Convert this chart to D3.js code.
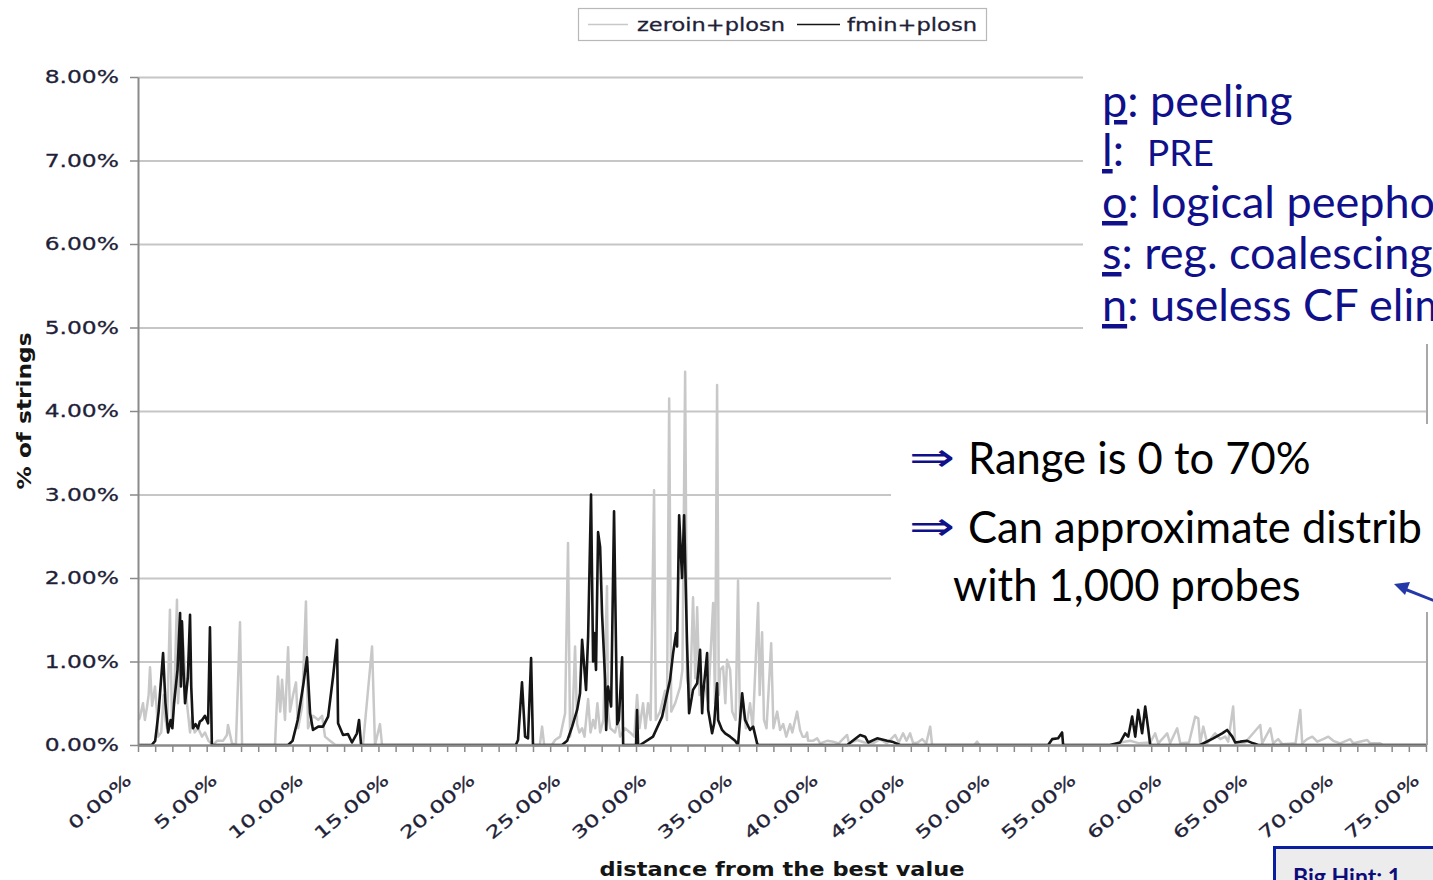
<!DOCTYPE html>
<html>
<head>
<meta charset="utf-8">
<script src="https://cdn.jsdelivr.net/npm/d3@7"></script>
<style>
  body { margin: 0; background: #fff; overflow: hidden; }
  svg { display: block; }
</style>
</head>
<body>
<div id="chart"></div>
<script>
// data: [distance %, % of strings]
const seriesNames = ["zeroin+plosn", "fmin+plosn"];
const yTicks = [0, 1, 2, 3, 4, 5, 6, 7, 8];
const xLabelTicks = [0, 5, 10, 15, 20, 25, 30, 35, 40, 45, 50, 55, 60, 65, 70, 75];

const zeroinPoints = [
  [0.05, 0.3], [0.12, 0.34], [0.29, 0.5], [0.4, 0.3], [0.52, 0.45], [0.62, 0.6], [0.7, 0.93], [0.82, 0.47],
  [0.99, 0.7], [1.1, 0.4], [1.16, 0.1], [1.35, 0.15], [1.5, 0.6], [1.6, 0.3], [1.69, 0.2], [1.86, 1.62],
  [1.98, 0.26], [2.1, 0.5], [2.27, 1.74], [2.33, 0.5], [2.45, 0.9], [2.56, 1.45], [2.74, 0.85], [2.85, 0.5],
  [3.03, 0.15], [3.15, 0.34], [3.3, 0.15], [3.5, 0.2], [3.73, 0.1], [3.9, 0.15], [4.1, 0.05], [4.37, 0],
  [4.6, 0.05], [4.95, 0.05], [5.18, 0.12], [5.24, 0.24], [5.47, 0.02], [5.7, 0], [5.94, 1.47], [6.06, 0],
  [7.98, 0], [8.15, 0.82], [8.28, 0.4], [8.39, 0.78], [8.56, 0.3], [8.74, 1.17], [8.85, 0.4], [9.03, 0.6],
  [9.2, 0.75], [9.32, 0.2], [9.55, 0.45], [9.78, 1.72], [9.9, 0.2], [10.19, 0.35], [10.5, 0.3], [10.72, 0.35],
  [10.89, 0.1], [11.18, 0.05], [11.5, 0], [13.1, 0], [13.63, 1.18], [13.8, 0], [14.09, 0.25], [14.21, 0],
  [23.4, 0], [23.53, 0.22], [23.65, 0], [24.1, 0], [24.29, 0.06], [24.58, 0.1], [24.87, 0.38], [25.04, 2.42],
  [25.16, 0.1], [25.3, 0.3], [25.45, 1.18], [25.57, 0.25], [25.7, 0.15], [25.86, 0.2], [26.0, 0.1], [26.21, 0.55],
  [26.35, 0.15], [26.5, 0.3], [26.62, 0.2], [26.75, 0.5], [26.91, 0.15], [27.1, 0.3], [27.31, 1.9], [27.37, 0.4],
  [27.5, 0.2], [27.78, 0.15], [27.95, 0.3], [28.07, 0.1], [28.36, 0.2], [28.65, 0.15], [28.9, 0.1], [29.06, 0.6],
  [29.2, 0.2], [29.41, 0.5], [29.55, 0.2], [29.7, 0.5], [29.85, 0.3], [30.05, 3.05], [30.15, 0.3], [30.4, 0.4],
  [30.69, 0.65], [30.8, 0.3], [30.93, 4.15], [31.05, 0.4], [31.28, 0.5], [31.57, 0.7], [31.7, 0.9], [31.86, 4.47],
  [31.97, 0.8], [32.15, 0.6], [32.32, 1.77], [32.45, 0.8], [32.56, 1.65], [32.7, 0.6], [33.02, 0.7], [33.2, 0.5],
  [33.49, 1.7], [33.6, 0.5], [33.72, 4.31], [33.82, 0.6], [33.9, 0.9], [34.07, 0.94], [34.2, 0.5], [34.3, 1.02],
  [34.48, 0.9], [34.6, 0.4], [34.8, 0.3], [34.94, 1.97], [35.05, 0.3], [35.24, 0.5], [35.4, 0.2], [35.64, 0.5],
  [35.8, 0.2], [36.11, 1.7], [36.2, 0.6], [36.34, 1.35], [36.45, 0.3], [36.6, 0.2], [36.87, 1.22], [37.0, 0.2],
  [37.22, 0.4], [37.39, 0.18], [37.57, 0.25], [37.75, 0.1], [37.97, 0.25], [38.1, 0.15], [38.38, 0.4], [38.55, 0.18],
  [38.7, 0.1], [38.85, 0.1], [38.96, 0.15], [39.02, 0.05], [39.3, 0.05], [39.55, 0.08], [39.72, 0.02], [40.13, 0.05],
  [40.48, 0.04], [40.8, 0.02], [41.29, 0.12], [41.4, 0.02], [41.88, 0.06], [42.3, 0.03], [42.8, 0.02], [43.21, 0.07],
  [43.6, 0.02], [44.09, 0.12], [44.3, 0.03], [44.55, 0.14], [44.75, 0.05], [44.96, 0.14], [45.14, 0.02], [45.4, 0.03],
  [45.66, 0.07], [45.9, 0.02], [46.13, 0.22], [46.24, 0], [48.7, 0], [48.86, 0.04], [49.0, 0],
  [56.79, 0], [57.19, 0.03], [57.78, 0.05], [58.3, 0.02], [58.94, 0.03], [59.23, 0.14], [59.41, 0.02], [59.93, 0.14],
  [60.1, 0.02], [60.51, 0.2], [60.69, 0.02], [61.2, 0.03], [61.56, 0.34], [61.74, 0.32], [61.85, 0.02], [62.03, 0.22],
  [62.26, 0.02], [62.72, 0.14], [63.02, 0.07], [63.31, 0.1], [63.48, 0.04], [63.77, 0.46], [63.89, 0.02], [64.47, 0.03],
  [65.35, 0.24], [65.46, 0.02], [65.93, 0.2], [66.1, 0.02], [66.39, 0.07], [66.63, 0.01], [67.4, 0.02], [67.68, 0.42],
  [67.79, 0.02], [68.08, 0.07], [68.38, 0.1], [68.67, 0.04], [69.01, 0.07], [69.31, 0.1], [69.6, 0.05], [70.0, 0.02],
  [70.59, 0.07], [70.76, 0.02], [71.58, 0.06], [71.75, 0.02], [72.33, 0.02], [72.51, 0], [75, 0]
];

const fminPoints = [
  [0, 0], [0.8, 0], [1.0, 0.05], [1.2, 0.4], [1.35, 0.8], [1.46, 1.1], [1.6, 0.5], [1.75, 0.15],
  [1.9, 0.3], [2.0, 0.2], [2.1, 0.5], [2.3, 0.9], [2.45, 1.58], [2.5, 0.7], [2.56, 1.48], [2.65, 0.9],
  [2.74, 0.5], [2.9, 0.8], [3.03, 1.56], [3.1, 0.7], [3.2, 0.2], [3.35, 0.25], [3.49, 0.2], [3.6, 0.28],
  [3.73, 0.3], [3.9, 0.35], [4.08, 0.26], [4.19, 1.41], [4.3, 0],
  [8.74, 0], [9.0, 0.05], [9.3, 0.3], [9.61, 0.7], [9.84, 1.05], [10.02, 0.38], [10.19, 0.18], [10.5, 0.22],
  [10.77, 0.22], [11.07, 0.34], [11.36, 0.82], [11.59, 1.26], [11.65, 0.26], [11.94, 0.12], [12.23, 0.13],
  [12.46, 0.03], [12.75, 0.14], [12.87, 0.3], [12.99, 0],
  [22.0, 0], [22.13, 0.06], [22.36, 0.75], [22.54, 0.1], [22.71, 0.08], [22.89, 1.04], [23.0, 0],
  [24.69, 0], [24.99, 0.05], [25.28, 0.22], [25.57, 0.42], [25.74, 0.62], [25.86, 1.26], [26.09, 0.66], [26.21, 1.3],
  [26.38, 3.0], [26.5, 1.0], [26.56, 1.34], [26.67, 0.9], [26.79, 2.55], [26.91, 2.37], [27.02, 1.58], [27.2, 0.78],
  [27.26, 0.18], [27.37, 0.7], [27.55, 0.46], [27.72, 2.8], [27.9, 0.25], [28.0, 0.3], [28.19, 1.05], [28.25, 0],
  [29.0, 0], [29.06, 0.42], [29.12, 0], [29.24, 0], [29.99, 0.1], [30.52, 0.34], [30.98, 0.78], [31.16, 1.1],
  [31.33, 1.34], [31.39, 1.18], [31.51, 2.75], [31.68, 2.0], [31.8, 2.75], [31.97, 1.22], [32.09, 0.38], [32.32, 0.66],
  [32.56, 0.74], [32.73, 1.14], [32.85, 0.38], [32.91, 0.62], [33.14, 1.1], [33.2, 0.42], [33.43, 0.14], [33.55, 0.26],
  [33.72, 0.74], [33.78, 0.3], [34.01, 0.18], [34.19, 0.14], [34.48, 0.1], [34.77, 0.05], [34.94, 0], [35.18, 0.62],
  [35.35, 0.3], [35.64, 0.18], [35.82, 0.22], [36.05, 0.02], [36.11, 0],
  [41.3, 0], [42.05, 0.12], [42.34, 0.1], [42.52, 0.03], [43.04, 0.08], [43.62, 0.05], [43.91, 0.04], [44.38, 0],
  [53.0, 0], [53.23, 0.07], [53.58, 0.08], [53.81, 0.15], [53.87, 0],
  [56.6, 0], [57.19, 0.03], [57.48, 0.14], [57.66, 0.1], [57.89, 0.34], [58.07, 0.1], [58.24, 0.42], [58.47, 0.14],
  [58.65, 0.46], [58.82, 0.2], [58.94, 0],
  [61.85, 0], [62.61, 0.08], [63.13, 0.14], [63.42, 0.18], [63.72, 0.1], [63.89, 0.03], [64.18, 0.04], [64.59, 0.05],
  [64.94, 0.02], [65.23, 0], [75, 0]
];

// slide text that sits over the chart (only the part visible on the page)
const abbrevKeys = ["p", "l", "o", "s", "n"];
const abbrevRest = [": peeling", ":", ": logical peepho", ": reg. coalescing", ": useless CF elim"];
const bulletLines = ["Range is 0 to 70%", "Can approximate distrib"];
const bulletTail = "with 1,000 probes";
const hintText = "Big Hint: 1";

const W = 1433, H = 880;
const svg = d3.select("#chart").append("svg").attr("width", W).attr("height", H);

const x = d3.scaleLinear().domain([0, 75]).range([138, 1426]);
const y = d3.scaleLinear().domain([0, 8]).range([745, 77]);

const axisFont = "DejaVu Sans, Verdana, sans-serif";
const labelColor = "#1f1f38";

function stretch(sel, k) {
  sel.each(function () {
    const w = this.getComputedTextLength();
    d3.select(this).attr("textLength", w * k).attr("lengthAdjust", "spacingAndGlyphs");
  });
}

// gridlines
const grid = svg.append("g").attr("transform", `translate(${x(0)},0)`)
  .call(d3.axisLeft(y).tickValues(yTicks.slice(1)).tickSize(-(x(75) - x(0))).tickFormat(""));
grid.select(".domain").remove();
grid.selectAll(".tick line").attr("stroke", "#c6c6c6").attr("stroke-width", 2);

// right border of the plot
svg.append("line")
  .attr("x1", x(75) + 1).attr("x2", x(75) + 1)
  .attr("y1", y(8)).attr("y2", y(0))
  .attr("stroke", "#a8a8a8").attr("stroke-width", 2);

// series
const line = d3.line().x(d => x(d[0])).y(d => y(d[1]));
svg.append("path").datum(zeroinPoints)
  .attr("d", line).attr("fill", "none")
  .attr("stroke", "#c8c8c8").attr("stroke-width", 2.5).attr("stroke-linejoin", "round");
svg.append("path").datum(fminPoints)
  .attr("d", line).attr("fill", "none")
  .attr("stroke", "#151515").attr("stroke-width", 2.6).attr("stroke-linejoin", "round");

// y axis
const gy = svg.append("g").attr("transform", `translate(${x(0)},0)`)
  .call(d3.axisLeft(y).tickValues(yTicks).tickSize(8).tickSizeOuter(0).tickPadding(11)
    .tickFormat(d => d3.format(".2f")(d) + "%"));
gy.select(".domain").attr("stroke", "#8a8a8a").attr("stroke-width", 2);
gy.selectAll(".tick line").attr("stroke", "#8a8a8a").attr("stroke-width", 1.5);
gy.selectAll("text").attr("font-family", axisFont).attr("font-size", 18).attr("fill", labelColor)
  .attr("stroke", labelColor).attr("stroke-width", 0.3);
stretch(gy.selectAll("text"), 1.3);

// x axis: a tick every 1%, label every 5%
const gx = svg.append("g").attr("transform", `translate(0,${y(0)})`)
  .call(d3.axisBottom(x).tickValues(d3.range(0, 76, 1)).tickSize(7).tickSizeOuter(0)
    .tickFormat(d => xLabelTicks.includes(d) ? d3.format(".2f")(d) + "%" : ""));
gx.select(".domain").attr("stroke", "#8a8a8a").attr("stroke-width", 2.5);
gx.selectAll(".tick line").attr("stroke", "#8a8a8a").attr("stroke-width", 1.5);
gx.selectAll("text")
  .attr("x", 0).attr("y", 0).attr("dy", 0)
  .attr("text-anchor", "end")
  .attr("transform", "translate(-6,37) rotate(-40)")
  .attr("font-family", axisFont).attr("font-size", 17).attr("fill", labelColor)
  .attr("stroke", labelColor).attr("stroke-width", 0.3);
stretch(gx.selectAll("text"), 1.4);

// axis titles
svg.append("text")
  .attr("transform", "translate(31,411) rotate(-90)")
  .attr("text-anchor", "middle")
  .attr("font-family", axisFont).attr("font-weight", "bold").attr("font-size", 19)
  .attr("fill", "#151515")
  .attr("textLength", 157).attr("lengthAdjust", "spacingAndGlyphs")
  .text("% of strings");

svg.append("text")
  .attr("x", 782).attr("y", 876)
  .attr("text-anchor", "middle")
  .attr("font-family", axisFont).attr("font-weight", "bold").attr("font-size", 19)
  .attr("fill", "#151515")
  .attr("textLength", 365).attr("lengthAdjust", "spacingAndGlyphs")
  .text("distance from the best value");

// legend
const legend = svg.append("g");
legend.append("rect")
  .attr("x", 578.5).attr("y", 8.5).attr("width", 408).attr("height", 32)
  .attr("fill", "#fff").attr("stroke", "#b8b8b8").attr("stroke-width", 1.2);
const legendItems = [
  { name: seriesNames[0], color: "#c8c8c8", x0: 588, x1: 628, tx: 637, tw: 148 },
  { name: seriesNames[1], color: "#151515", x0: 797, x1: 840, tx: 847, tw: 130 }
];
legendItems.forEach(d => {
  legend.append("line")
    .attr("x1", d.x0).attr("x2", d.x1).attr("y1", 24.5).attr("y2", 24.5)
    .attr("stroke", d.color).attr("stroke-width", 1.6);
  legend.append("text")
    .attr("x", d.tx).attr("y", 31)
    .attr("font-family", axisFont).attr("font-size", 18).attr("fill", labelColor)
    .attr("stroke", labelColor).attr("stroke-width", 0.3)
    .attr("textLength", d.tw).attr("lengthAdjust", "spacingAndGlyphs")
    .text(d.name);
});

// white slide text boxes covering the right of the chart
svg.append("rect").attr("x", 1083).attr("y", 66).attr("width", 360).attr("height", 278).attr("fill", "#fff");
svg.append("rect").attr("x", 891).attr("y", 424).attr("width", 550).attr("height", 188).attr("fill", "#fff");

const slideFont = "Lato, 'Open Sans', sans-serif";
const navy = "#10108a";

const abbrevBase = [117, 166, 218, 269, 321];
abbrevKeys.forEach((k, i) => {
  const t = svg.append("text")
    .attr("x", 1102).attr("y", abbrevBase[i])
    .attr("font-family", slideFont).attr("font-size", 45).attr("fill", navy);
  t.append("tspan").attr("text-decoration", "underline").text(k);
  t.append("tspan").text(abbrevRest[i]);
  if (i === 1) {
    t.append("tspan").attr("x", 1147).attr("font-size", 37).text("PRE");
  }
});

const bulletBase = [474, 543];
bulletLines.forEach((d, i) => {
  svg.append("text")
    .attr("x", 909).attr("y", bulletBase[i] - 3)
    .attr("font-family", "DejaVu Sans, sans-serif").attr("font-size", 40).attr("fill", navy)
    .attr("textLength", 46).attr("lengthAdjust", "spacingAndGlyphs")
    .text("\u21D2");
  svg.append("text")
    .attr("x", 968).attr("y", bulletBase[i])
    .attr("font-family", slideFont).attr("font-size", 43.5).attr("fill", "#000")
    .text(d);
});
svg.append("text")
  .attr("x", 953).attr("y", 601)
  .attr("font-family", slideFont).attr("font-size", 43.5).attr("fill", "#000")
  .text(bulletTail);

// blue pointer arrow coming in from the right
const arrowBlue = "#2438a8";
svg.append("line")
  .attr("x1", 1445).attr("y1", 605).attr("x2", 1402).attr("y2", 588)
  .attr("stroke", arrowBlue).attr("stroke-width", 3);
svg.append("path")
  .attr("d", "M1394,584 L1410,582 L1405,595 Z")
  .attr("fill", arrowBlue);

// hint box at the bottom right
svg.append("rect")
  .attr("x", 1274.5).attr("y", 847.5).attr("width", 200).attr("height", 60)
  .attr("fill", "#ececec").attr("stroke", "#0a1fa0").attr("stroke-width", 3);
svg.append("text")
  .attr("x", 1293).attr("y", 885)
  .attr("font-family", slideFont).attr("font-weight", "bold").attr("font-size", 23)
  .attr("fill", "#0c0c7a")
  .text(hintText);
</script>
</body>
</html>
